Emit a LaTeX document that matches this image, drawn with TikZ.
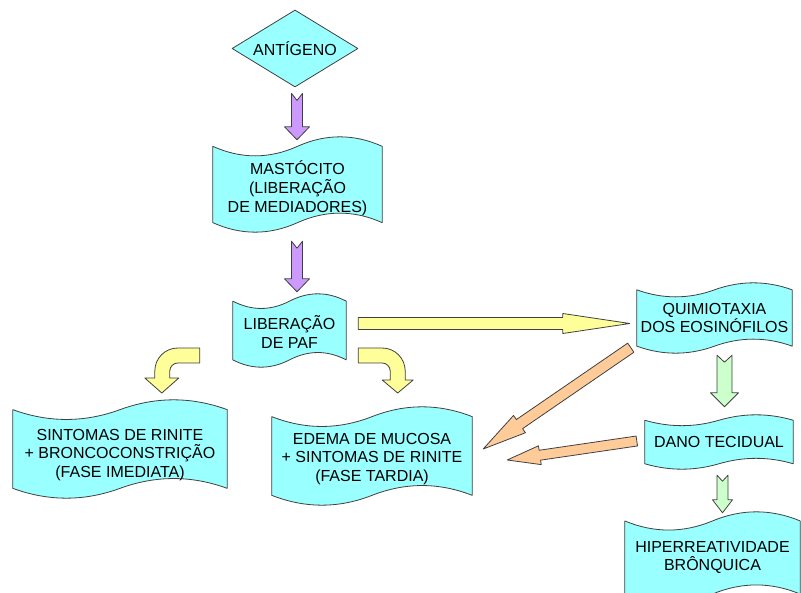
\documentclass[tikz,border=0pt]{standalone}
\usepackage{fontspec}
\setmainfont{Liberation Sans}
\usetikzlibrary{shapes.geometric,calc,backgrounds}

\definecolor{boxcyan}{RGB}{153,255,255}
\definecolor{arrlila}{RGB}{204,153,255}
\definecolor{arryellow}{RGB}{255,255,153}
\definecolor{arrgreen}{RGB}{204,255,204}
\definecolor{arrorange}{RGB}{255,204,153}
\definecolor{edgegray}{RGB}{64,64,64}

\tikzset{
  outline/.style={draw=edgegray, line width=0.8pt, line join=round},
  tape/.style={inner sep=0pt, align=center},
  tapeline/.style={outline, fill=boxcyan},
}

% block arrow: colour, half shaft, half head, head length, notch, from, to
\newcommand{\blockarrow}[7]{%
  \coordinate (ba-s) at (#6);
  \coordinate (ba-e) at (#7);
  \coordinate (ba-h) at ($(ba-e)!#4!(ba-s)$);
  \draw[outline, fill=#1] ($(ba-s)!#2!90:(ba-e)$) -- ($(ba-h)!#2!90:(ba-e)$)
    -- ($(ba-h)!#3!90:(ba-e)$) -- (ba-e) -- ($(ba-h)!#3!-90:(ba-e)$)
    -- ($(ba-h)!#2!-90:(ba-e)$) -- ($(ba-s)!#2!-90:(ba-e)$)
    -- ($(ba-s)!#5!(ba-e)$) -- cycle;
}

\begin{document}
\begin{tikzpicture}[x=1pt, y=-1pt, font=\fontsize{16}{18.8}\selectfont]
\useasboundingbox (0,0) rectangle (801,593);

\node[diamond, outline, fill=boxcyan, aspect=1.64, inner sep=0pt,
  minimum width=126pt, minimum height=77pt] (ant) at (295,48.5) {ANTÍGENO};
\node[tape, minimum width=169pt, minimum height=95pt] (mast) at (297.5,188.5) {MASTÓCITO\\(LIBERAÇÃO\\DE MEDIADORES)};
\node[tape, minimum width=113pt, minimum height=73pt] (paf) at (289.5,332) {LIBERAÇÃO\\DE PAF};
\node[tape, minimum width=214pt, minimum height=98pt] (sint) at (120,455) {SINTOMAS DE RINITE\\+ BRONCOCONSTRIÇÃO\\(FASE IMEDIATA)};
\node[tape, minimum width=200pt, minimum height=98pt] (edema) at (372,459) {EDEMA DE MUCOSA\\+ SINTOMAS DE RINITE\\(FASE TARDIA)};
\node[tape, minimum width=155pt, minimum height=70pt] (quim) at (714.5,318) {QUIMIOTAXIA\\DOS EOSINÓFILOS};
\node[tape, minimum width=148pt, minimum height=54pt] (dano) at (719,442) {DANO TECIDUAL};
\node[tape, minimum width=175pt, minimum height=91pt] (hiper) at (712.5,557.5) {HIPERREATIVIDADE\\BRÔNQUICA};

% wavy boxes behind the texts (raised a little above the text)
\begin{scope}[on background layer]
\foreach \bx/\dy in {mast/4,paf/1.5,sint/6,edema/3,quim/0,dano/0,hiper/0}
  \draw[tapeline] let \p1=($(\bx.north west)+(0,-\dy)$), \p2=($(\bx.south east)+(0,-\dy)$),
    \n1={(\x2-\x1)/6}, \n2={(\y1-\y2)/10} in
    (\x1,{\y1-\n2})
    .. controls ({\x1+\n1},{\y1-2.33*\n2}) and ({\x1+2*\n1},{\y1-2.33*\n2}) .. ({\x1+3*\n1},{\y1-\n2})
    .. controls ({\x1+4*\n1},{\y1+0.33*\n2}) and ({\x1+5*\n1},{\y1+0.33*\n2}) .. (\x2,{\y1-\n2})
    -- (\x2,{\y2+\n2})
    .. controls ({\x1+5*\n1},{\y2+2.33*\n2}) and ({\x1+4*\n1},{\y2+2.33*\n2}) .. ({\x1+3*\n1},{\y2+\n2})
    .. controls ({\x1+2*\n1},{\y2-0.33*\n2}) and ({\x1+\n1},{\y2-0.33*\n2}) .. (\x1,{\y2+\n2})
    -- cycle;
\end{scope}

\blockarrow{arrlila}{5.5pt}{12.5pt}{13pt}{7pt}{$(ant.south)+(2,6)$}{$(mast.north)+(-0.5,-1)$}
\blockarrow{arrlila}{5.5pt}{12.5pt}{13pt}{7pt}{$(mast.south)+(-0.5,5)$}{$(paf.north)+(7.5,-3.5)$}
\blockarrow{arryellow}{6pt}{10pt}{67pt}{0pt}{$(paf.east)+(12,-8.5)$}{$(quim.west)+(-7,5.5)$}
\blockarrow{arrorange}{5.5pt}{10.5pt}{44pt}{0pt}{$(quim.south west)+(-6,-5.5)$}{$(edema.east)+(11,-10)$}
\blockarrow{arrorange}{5pt}{9.5pt}{33pt}{0pt}{$(dano.west)+(-8,-1)$}{$(edema.east)+(35,1)$}
\blockarrow{arrgreen}{7.5pt}{14pt}{14pt}{7pt}{$(quim.south)+(10,2)$}{$(dano.north)+(5.5,-8)$}
\blockarrow{arrgreen}{5.5pt}{10pt}{13pt}{6pt}{$(dano.south)+(3.5,6)$}{$(hiper.north)+(10,1)$}

% bent arrows out of PAF
\draw[outline, fill=arryellow] ($(paf.west)+(-33,16)$) -- ++(-22,0)
  .. controls +(-12.7,0) and +(0,-12.7) .. ++(-23,23) -- ++(0,7) -- ++(-10,0)
  -- ++(17,15) -- ++(17,-15) -- ++(-9,0) -- ++(0,-7)
  .. controls +(0,-4.4) and +(-4.4,0) .. ++(8,-8) -- ++(22,0) -- cycle;
\draw[outline, fill=arryellow] ($(paf.east)+(12,16)$) -- ++(24,0)
  .. controls +(12.7,0) and +(0,-12.7) .. ++(23,23) -- ++(0,9) -- ++(8,0)
  -- ++(-15.5,13) -- ++(-15.5,-13) -- ++(8,0) -- ++(0,-9)
  .. controls +(0,-4.4) and +(4.4,0) .. ++(-8,-8) -- ++(-24,0) -- cycle;
\end{tikzpicture}
\end{document}
